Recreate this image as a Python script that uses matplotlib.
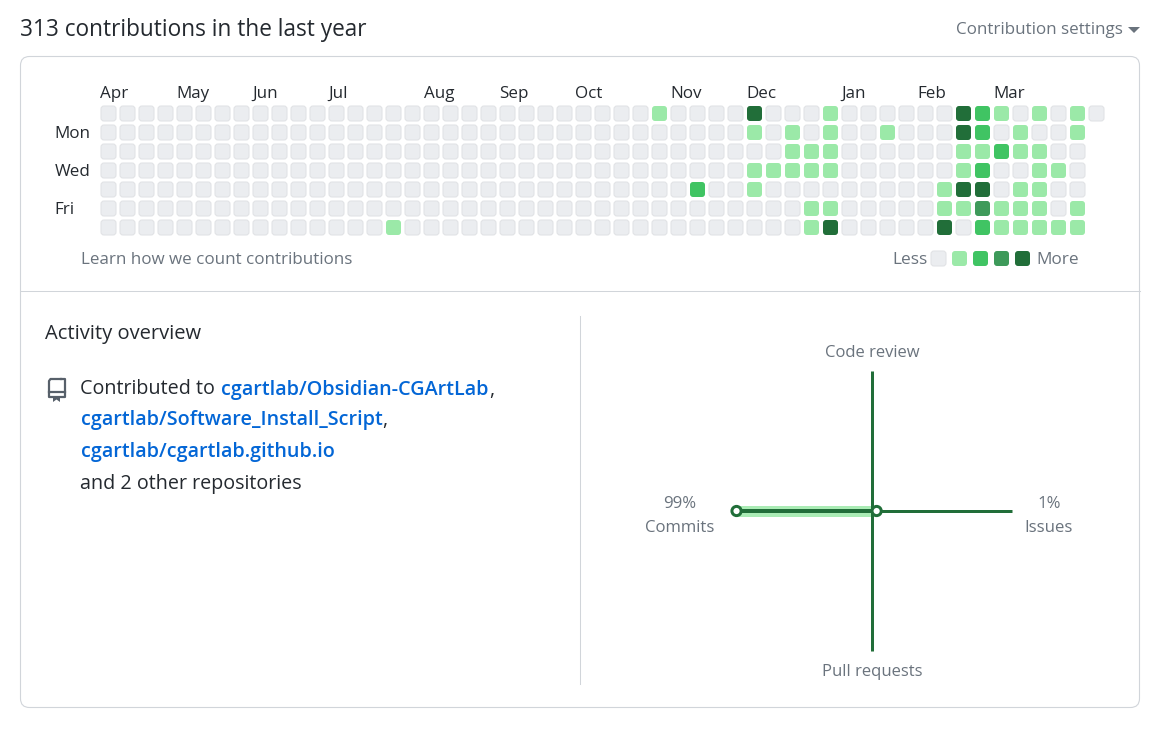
import matplotlib
matplotlib.use('Agg')
import matplotlib.pyplot as plt
from matplotlib.patches import FancyBboxPatch, Circle, Polygon

plt.rcParams['font.family'] = ['Open Sans', 'DejaVu Sans']

W, H = 1164, 736

# contribution level per week, one list for each weekday row
sun = [0]*29 + [1,0,0,0,0,4,0,0,0,1,0,0,0,0,0,0,4,2,1,0,1,0,1,0]
mon = [0]*34 + [1,0,1,0,1,0,0,1,0,0,0,4,2,0,1,0,0,1]
tue = [0]*36 + [1,1,1,0,0,0,0,0,0,1,1,2,1,1,0,0]
wed = [0]*34 + [1,1,1,1,1,0,0,0,0,0,0,1,2,0,0,1,1,0]
thu = [0]*31 + [2,0,0,1,0,0,0,0,0,0,0,0,0,1,4,4,0,1,1,0,0]
fri = [0]*37 + [1,1,0,0,0,0,0,1,1,3,1,1,1,0,1]
sat = [0]*15 + [1] + [0]*21 + [1,4,0,0,0,0,0,4,0,2,1,1,1,1,1]
week_rows = [sun, mon, tue, wed, thu, fri, sat]

level_colors = ['#ebedf0', '#9be9a8', '#40c463', '#3e9a5a', '#216e39']

months = ['Apr', 'May', 'Jun', 'Jul', 'Aug', 'Sep', 'Oct', 'Nov', 'Dec', 'Jan', 'Feb', 'Mar']
month_weeks = [0, 4, 8, 12, 17, 21, 25, 30, 34, 39, 43, 47]
day_labels = {1: 'Mon', 3: 'Wed', 5: 'Fri'}

repos = ['cgartlab/Obsidian-CGArtLab', 'cgartlab/Software_Install_Script', 'cgartlab/cgartlab.github.io']

radar_commits = 99
radar_issues = 1

dark = '#24292f'
muted = '#6a737d'
link = '#0366d6'
border = '#d1d5da'
radar_green = '#216e39'

fig = plt.figure(figsize=(W/100, H/100), dpi=100, facecolor='white')
ax = fig.add_axes([0, 0, 1, 1])
ax.set_xlim(0, W)
ax.set_ylim(H, 0)
ax.axis('off')


def px(size):
    return size * 0.72


def label(x, y, s, size=17, color=dark, **kw):
    kw.setdefault('va', 'center')
    return ax.text(x, y + 1.5, s, fontsize=px(size), color=color, **kw)


def cell(x, y, level):
    ax.add_patch(FancyBboxPatch((x+2, y+2), 11, 11, boxstyle='round,pad=2,rounding_size=3',
                                fc=level_colors[level], ec='#1b1f23', lw=0, zorder=2))
    if level == 0:
        ax.add_patch(FancyBboxPatch((x+2, y+2), 11, 11, boxstyle='round,pad=2,rounding_size=3',
                                    fc='none', ec='#e1e3e6', lw=0.8, zorder=3))


# header and card
label(20, 28, '313 contributions in the last year', size=22.6)
label(1123, 28, 'Contribution settings', size=17, color=muted, ha='right')
ax.add_patch(Polygon([(1128, 27), (1140, 27), (1134, 33)], fc=muted, ec='none'))
ax.add_patch(FancyBboxPatch((26.5, 62.5), 1107, 639, boxstyle='round,pad=6,rounding_size=9',
                            fc='white', ec=border, lw=0.8))
ax.plot([20.5, 1139.5], [290.5, 290.5], color=border, lw=0.75)
ax.plot([580, 580], [316, 684], color=border, lw=0.75)

# calendar
for r, row in enumerate(week_rows):
    for c, level in enumerate(row):
        cell(101 + 19*c, 106 + 19*r, level)
for m, c in zip(months, month_weeks):
    label(100.5 + 19*c, 92.5, m, size=17)
for r, d in day_labels.items():
    label(54.5, 113 + 19*r, d, size=17)

label(81, 258, 'Learn how we count contributions', size=17, color=muted)
label(892, 258, 'Less', size=17.2, color=muted)
label(1036, 258, 'More', size=17.2, color=muted)
for i in range(5):
    cell(931 + 21*i, 251, i)

# activity overview
label(45, 332, 'Activity overview', size=20.2)

# repo icon
icon_x = [61, 50.5, 49, 49, 65, 65, 61]
icon_y = [379, 379, 381, 397, 397, 379, 379]
ax.plot(icon_x, icon_y, color='#57606a', lw=1.6, solid_joinstyle='round')
ax.plot([49, 65], [392, 392], color='#57606a', lw=1.6)
ax.add_patch(Polygon([(53, 396), (60, 396), (60, 402), (56.5, 399.5), (53, 402)], fc='#57606a', ec='none'))

renderer = fig.canvas.get_renderer()


def chain(x, y, parts):
    for s, color, weight in parts:
        t = label(x, y, s, size=19.8, color=color, fontweight=weight)
        x += t.get_window_extent(renderer).width + (6 if s.endswith('to') else 0)


chain(80.5, 388, [('Contributed to', dark, 'normal'), (repos[0], link, 'semibold'), (',', dark, 'normal')])
chain(80.5, 419, [(repos[1], link, 'semibold'), (',', dark, 'normal')])
chain(80.5, 451, [(repos[2], link, 'semibold')])
label(80.5, 482, 'and 2 other repositories', size=19.8)

# radar
cx, cy, arm = 872, 511, 140


def radar_r(v):
    return 3.3 + 1.335*v


left = cx - radar_r(radar_commits)
right = cx + radar_r(radar_issues)
ax.plot([left, right], [cy, cy], color='#9be9a8', lw=px(11), alpha=0.85, solid_capstyle='butt', zorder=3)
ax.plot([cx, cx], [cy-arm, cy+arm], color=radar_green, lw=px(3), solid_capstyle='butt', zorder=4)
ax.plot([cx-arm, cx+arm], [cy, cy], color=radar_green, lw=px(3), solid_capstyle='butt', zorder=4)
ax.plot([left, cx], [cy, cy], color=radar_green, lw=px(4), solid_capstyle='butt', zorder=4)
for x in (left, right):
    ax.add_patch(Circle((x, cy), 4.6, fc='white', ec=radar_green, lw=px(3), zorder=5))

label(cx + 0.5, 351.5, 'Code review', size=16.6, color=muted, ha='center')
label(cx + 0.5, 670.5, 'Pull requests', size=16.6, color=muted, ha='center')
label(680, 502.5, f'{radar_commits}%', size=16.8, color=muted, ha='center')
label(680, 526.5, 'Commits', size=16.8, color=muted, ha='center')
label(1049, 502.5, f'{radar_issues}%', size=16.8, color=muted, ha='center')
label(1049, 526.5, 'Issues', size=16.8, color=muted, ha='center')

fig.savefig('out.png', dpi=100, facecolor='white')
